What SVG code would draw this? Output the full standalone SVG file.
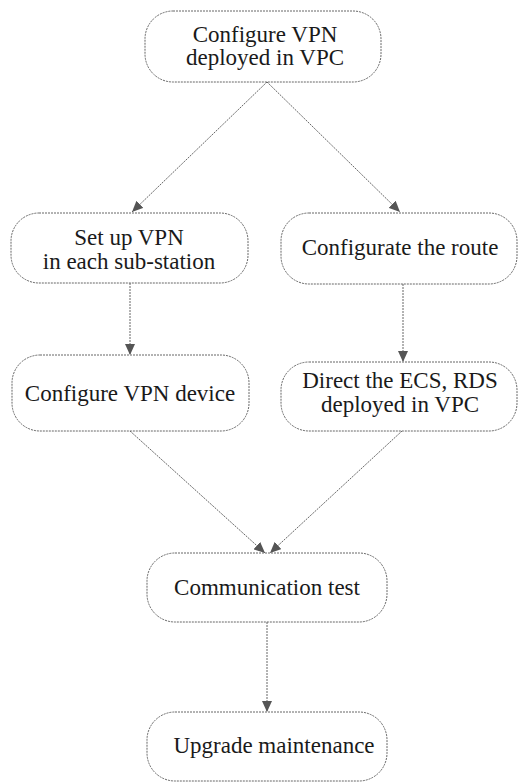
<svg xmlns="http://www.w3.org/2000/svg" width="518" height="783" viewBox="0 0 518 783">
<style>
.box{fill:#fff;stroke:#666;stroke-width:1;stroke-dasharray:2 1}
.conn{fill:none;stroke:#666;stroke-width:1;stroke-dasharray:2 1}
</style>
<defs>
<marker id="ah" markerUnits="userSpaceOnUse" markerWidth="12" markerHeight="10" refX="11" refY="5" orient="auto">
<path d="M0,0 L11,5 L0,10 z" fill="#555"/>
</marker>
</defs>
<rect width="518" height="783" fill="#fff"/>
<g id="connectors">
<line class="conn" x1="267" y1="82" x2="132" y2="212" marker-end="url(#ah)"/>
<line class="conn" x1="267" y1="82" x2="400" y2="212" marker-end="url(#ah)"/>
<line class="conn" x1="130" y1="283" x2="130" y2="355" marker-end="url(#ah)"/>
<line class="conn" x1="403" y1="284" x2="403" y2="362" marker-end="url(#ah)"/>
<line class="conn" x1="130" y1="431" x2="265" y2="553" marker-end="url(#ah)"/>
<line class="conn" x1="402" y1="431" x2="270" y2="553" marker-end="url(#ah)"/>
<line class="conn" x1="267" y1="622" x2="267" y2="712" marker-end="url(#ah)"/>
</g>
<g font-family="Liberation Serif, Times New Roman, serif" font-size="23" fill="#1a1a1a" text-anchor="middle">
<g id="n1">
<rect class="box" x="145" y="11" width="236" height="71" rx="28"/>
<text x="265" y="41.5">Configure VPN</text>
<text x="265" y="65">deployed in VPC</text>
</g>
<g id="n2">
<rect class="box" x="11" y="213" width="237" height="70" rx="28"/>
<text x="129" y="245">Set up VPN</text>
<text x="129" y="268.5">in each sub-station</text>
</g>
<g id="n3">
<rect class="box" x="281" y="213" width="236" height="71" rx="28"/>
<text x="400" y="255">Configurate the route</text>
</g>
<g id="n4">
<rect class="box" x="12" y="355" width="237" height="76" rx="28"/>
<text x="130" y="401">Configure VPN device</text>
</g>
<g id="n5">
<rect class="box" x="281" y="362" width="236" height="69" rx="28"/>
<text x="400" y="388">Direct the ECS, RDS</text>
<text x="400" y="411.5">deployed in VPC</text>
</g>
<g id="n6">
<rect class="box" x="147" y="553" width="240" height="69" rx="28"/>
<text x="267" y="595">Communication test</text>
</g>
<g id="n7">
<rect class="box" x="147" y="712" width="240" height="69" rx="28"/>
<text x="274" y="753">Upgrade maintenance</text>
</g>
</g>
</svg>
